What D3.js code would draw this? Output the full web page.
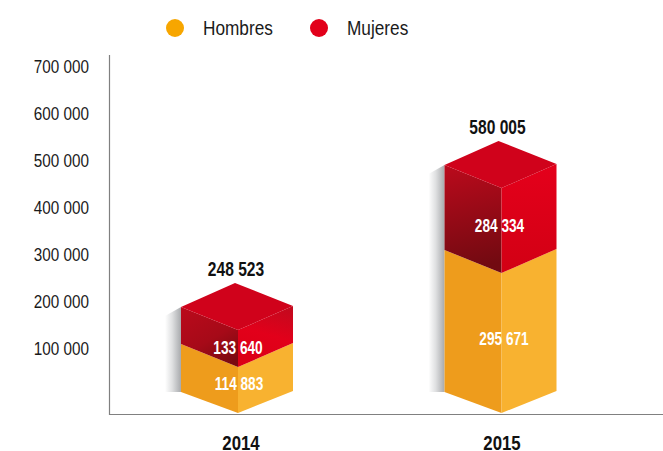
<!DOCTYPE html>
<html><head><meta charset="utf-8">
<script src="https://cdn.jsdelivr.net/npm/d3@7/dist/d3.min.js"></script>
<style>html,body{margin:0;padding:0;background:#fff;overflow:hidden}svg{display:block}text{font-family:"Liberation Sans",Arial,sans-serif}</style>
</head><body><svg id="c" width="663" height="451"></svg>
<script>
const categories = ["2014", "2015"];
const hombres = [114883, 295671];
const mujeres = [133640, 284334];
const totales = [248523, 580005];
const axisTicks = [100000, 200000, 300000, 400000, 500000, 600000, 700000];
const seriesNames = ["Hombres", "Mujeres"];

const fmt = v => d3.format(",")(v).replace(/,/g, " ");
const svg = d3.select("#c");
const defs = svg.append("defs");
function grad(id, stops, v) {
  const g = defs.append("linearGradient").attr("id", id)
    .attr("x1", v[0]).attr("y1", v[1]).attr("x2", v[2]).attr("y2", v[3]);
  stops.forEach(s => g.append("stop").attr("offset", s[0]).attr("stop-color", s[1]));
}
grad("redL0", [[0, "#b80a1b"], [0.55, "#a60a18"], [1, "#7a0a10"]], [0.2, 0, 0.75, 1]);
grad("redL1", [[0, "#bb0a1c"], [1, "#720a11"]], [0, 0, 0.12, 1]);
grad("redR0", [[0, "#c00a1e"], [0.55, "#e2001a"], [1, "#dc0016"]], [1, 0, 0.75, 1]);
grad("redR1", [[0, "#e4001b"], [1, "#d20014"]], [0, 0, 0, 1]);
grad("shadow", [[0, "#ffffff"], [0.45, "#dfe0e1"], [1, "#a8aaad"]], [0, 0, 1, 0]);

// Liberation Sans squeezed horizontally to the narrow face used in the picture
function narrow(sel, k) {
  sel.each(function () {
    const t = d3.select(this);
    t.attr("textLength", this.getComputedTextLength() * k).attr("lengthAdjust", "spacingAndGlyphs");
  });
}

// printed axis labels
const yAxisScale = d3.scaleLinear().domain([0, 700000]).range([396, 67]);
// the drawn block heights in the picture are not proportional: calibrated on the cumulative values
const yBlock = d3.scaleLinear()
  .domain([0, hombres[0], totales[0], hombres[1], totales[1]])
  .range([413, 367, 330, 273, 188]);
const x = d3.scalePoint().domain(categories).range([238, 501.5]);

const hwL = 57, hwR = 55, drop = 23;

svg.append("g").attr("transform", "translate(91,0)")
  .call(d3.axisLeft(yAxisScale).tickValues(axisTicks).tickSize(0).tickPadding(2).tickFormat(fmt))
  .call(g => g.select(".domain").remove())
  .call(g => g.selectAll("text").attr("font-size", 18.5).attr("fill", "#1a1a1a")
    .style("font-family", '"Liberation Sans",Arial,sans-serif').call(narrow, 0.825));

svg.append("path").attr("d", "M109.5,55V414.5H663").attr("fill", "none").attr("stroke", "#808080").attr("stroke-width", 1.2);

const poly = (pts, fill) => svg.append("polygon").attr("points", pts.map(p => p.join(",")).join(" ")).attr("fill", fill);

categories.forEach((c, i) => {
  const cx = x(c), l = cx - hwL, r = cx + hwR;
  const yBase = yBlock(0), yMid = yBlock(hombres[i]), yTop = yBlock(totales[i]);
  // cast shadow
  poly([[l - 16, yTop - drop + 9], [l, yTop - drop], [l, yBase - 21], [l - 16, yBase - 21]], "url(#shadow)");
  // orange
  poly([[l, yMid - drop], [cx, yMid], [cx, yBase], [l, yBase - 21]], "#ee9c1c");
  poly([[cx, yMid], [r, yMid - drop - 1], [r, yBase - 22], [cx, yBase]], "#f8b230");
  // red
  poly([[l, yTop - drop], [cx, yTop], [cx, yMid], [l, yMid - drop]], "url(#redL" + i + ")");
  poly([[cx, yTop], [r, yTop - drop - 1], [r, yMid - drop - 1], [cx, yMid]], "url(#redR" + i + ")");
  poly([[l, yTop - drop], [cx - 3, yTop - 47], [r, yTop - drop - 1], [cx, yTop]], "#d0021b");
  // labels
  const lab = (t, px, py, size, fill, k) => svg.append("text").attr("x", px).attr("y", py)
    .attr("text-anchor", "middle").attr("font-weight", "bold").attr("font-size", size).attr("fill", fill).text(t).call(narrow, k);
  lab(fmt(mujeres[i]), cx + (i ? -2 : 0), (yTop + yMid) / 2 + (i ? 1 : 5), 17.5, "#fff", 0.78);
  lab(fmt(hombres[i]), cx + (i ? 2.5 : 1), (yMid + yBase) / 2 + (i ? 2 : 0), 17.5, "#fff", 0.78);
  lab(fmt(totales[i]), cx - (i ? 4 : 2), yTop - 54, 20.5, "#111", 0.76);
  lab(c, cx + (i ? 0.5 : 3), 449.5, 21, "#111", 0.8);
});

// legend
const legendColor = d3.scaleOrdinal().domain(seriesNames).range(["#f7a600", "#e2001a"]);
const legendX = d3.scalePoint().domain(seriesNames).range([175, 319]);
seriesNames.forEach(n => {
  svg.append("circle").attr("cx", legendX(n)).attr("cy", 28).attr("r", 9).attr("fill", legendColor(n));
  svg.append("text").attr("x", legendX(n) + 28).attr("y", 34.5).attr("font-size", 20.5).attr("fill", "#1a1a1a").text(n).call(narrow, 0.84);
});
</script></body></html>
